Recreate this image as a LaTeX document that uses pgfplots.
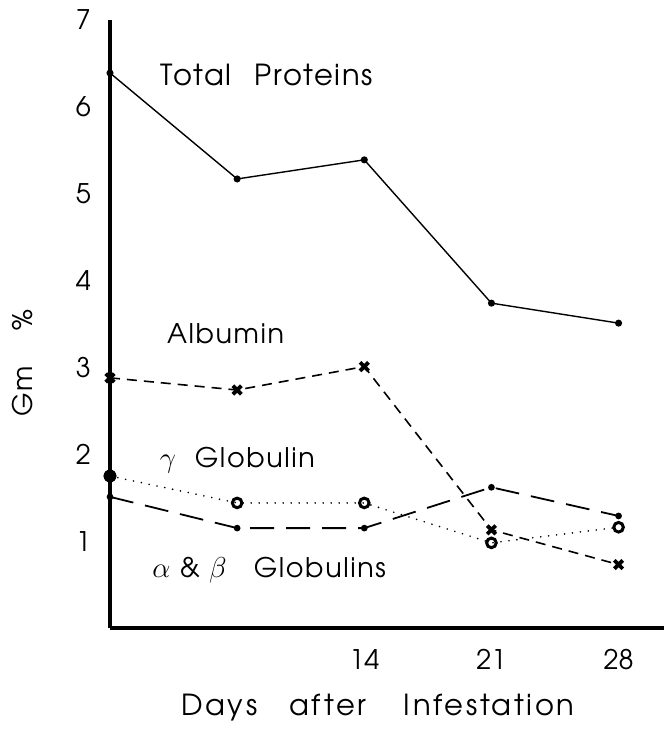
\documentclass[border=0pt]{standalone}
\usepackage{pgfplots}
\pgfplotsset{compat=1.18}
\usepackage{fontspec}
\setmainfont{TeX Gyre Adventor}
\newfontfamily\lab[LetterSpace=6]{TeX Gyre Adventor}
\newfontfamily\labw[LetterSpace=9]{TeX Gyre Adventor}
\begin{document}
\begin{tikzpicture}
\begin{axis}[
  scale only axis,
  width=277pt, height=304pt,
  xmin=0, xmax=30.5, ymin=0, ymax=7,
  axis x line=bottom, axis y line=left,
  axis line style={-, line width=1.6pt},
  xtick={14,21,28}, ytick={1,2,3,4,5,6,7},
  major tick length=0pt,
  tick style={draw=none},
  /pgf/number format/assume math mode=true,
  xticklabel style={font=\fontsize{13.5}{15}\selectfont, yshift=-7pt},
  yticklabel style={font=\fontsize{13.5}{15}\selectfont, xshift=-6pt},
  clip=false,
]
% Total proteins
\addplot[black, line width=0.7pt, mark=*, mark size=1.4pt] coordinates {
 (0,6.39) (7,5.17) (14,5.39) (21,3.74) (28,3.51)};
% Albumin
\addplot[black, line width=0.8pt, dash pattern=on 5pt off 3.5pt,
  mark=x, mark size=3pt, mark options={solid, line width=1.9pt}] coordinates {
 (0,2.88) (7,2.74) (14,3.01) (21,1.13) (28,0.73)};
% gamma globulin
\addplot[black, line width=0.9pt, line cap=round, dash pattern=on 0pt off 4pt,
  mark=o, mark size=2.4pt, mark options={solid, line width=1.5pt}] coordinates {
 (0,1.75) (7,1.44) (14,1.44) (21,0.98) (28,1.16)};
\addplot[black, only marks, mark=*, mark size=3pt] coordinates {(0,1.75)};
% alpha & beta globulins
\addplot[black, line width=0.9pt, dash pattern=on 12pt off 6pt,
  mark=*, mark size=1.2pt, mark options={solid}] coordinates {
 (0,1.51) (7,1.15) (14,1.15) (21,1.62) (28,1.29)};
% labels
\node[anchor=base west, font=\lab\fontsize{14.5}{17}\selectfont] at (axis cs:2.4,6.25) {Total\hspace{0.8em}Proteins};
\node[anchor=base west, font=\lab\fontsize{13.5}{16}\selectfont] at (axis cs:2.75,3.27) {Albumin};
\node[anchor=base west, font=\lab\fontsize{13.5}{16}\selectfont] at (axis cs:2.35,1.85) {$\gamma$\hspace{0.7em}Globulin};
\node[anchor=base west, font=\lab\fontsize{13.5}{16}\selectfont] at (axis cs:1.95,0.576) {$\alpha$ \& $\beta$\hspace{1.0em}Globulins};
\node[rotate=90, font=\lab\fontsize{13.5}{16}\selectfont] at (axis cs:-4.8,3.05) {Gm\hspace{1.3em}\%};
\node[font=\labw\fontsize{14.5}{16}\selectfont] at (axis cs:14.75,-0.92) {Days\hspace{1.1em}after\hspace{1.3em}Infestation};
\end{axis}
\path ([xshift=-55pt,yshift=-55.5pt]current axis.south west) rectangle ([yshift=10pt]current axis.north east);
\end{tikzpicture}
\end{document}
